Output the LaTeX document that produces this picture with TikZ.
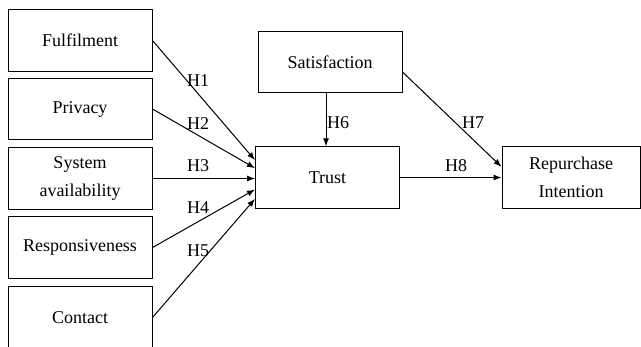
\documentclass[tikz,border=0pt]{standalone}
\usepackage{fontspec}
\setmainfont{Liberation Serif}
\usetikzlibrary{arrows.meta}
\begin{document}
\begin{tikzpicture}[x=0.75pt,y=-0.75pt,
  box/.style={draw,line width=0.75pt,minimum width=108pt,minimum height=46pt,align=center,
    font=\fontsize{13.5}{20.5}\selectfont},
  hyp/.style={font=\fontsize{13.5}{16}\selectfont},
  link/.style={line width=0.75pt,-{Latex[length=6pt,width=4.5pt]}}]
\useasboundingbox (0,0) rectangle (641,346);
\clip (0,0) rectangle (641,346);
% constructs on the left
\node[box] (fulfil) at (80,40.5) {Fulfilment};
\node[box] (privacy) at (80,109) {Privacy};
\node[box] (system) at (80,178.5) {System\\availability};
\node[box] (respons) at (80,247.5) {Responsiveness};
\node[box] (contact) at (80,317.5) {Contact};
% mediators and outcome
\node[box] (satisf) at (330,62) {Satisfaction};
\node[box] (trust) at (327.5,177.5) {Trust};
\node[box,minimum width=103.5pt] (repurch) at (571,177.5) {Repurchase\\Intention};
% paths
\draw[link] (fulfil.east) -- ([yshift=13pt]trust.west);
\draw[link] (privacy.east) -- ([yshift=7pt]trust.west);
\draw[link] (system.east) -- (system.east -| trust.west);
\draw[link] (respons.east) -- ([yshift=-9pt]trust.west);
\draw[link] (contact.east) -- ([yshift=-16pt]trust.west);
\draw[link] ([xshift=-3pt]satisf.south) -- ([xshift=-3pt]satisf.south |- trust.north);
\draw[link] ([yshift=-7.5pt]satisf.east) -- ([yshift=8pt]repurch.west);
\draw[link] (trust.east) -- (trust.east -| repurch.west);
% hypothesis labels
\node[hyp] (h1) at (198,81) {H1};
\node[hyp] (h2) at (198,124) {H2};
\node[hyp] (h3) at (198,166) {H3};
\node[hyp] (h4) at (198,208) {H4};
\node[hyp] (h5) at (198,251) {H5};
\node[hyp] (h6) at (338,123) {H6};
\node[hyp] (h7) at (473,123) {H7};
\node[hyp] (h8) at (456,166) {H8};
\end{tikzpicture}
\end{document}
